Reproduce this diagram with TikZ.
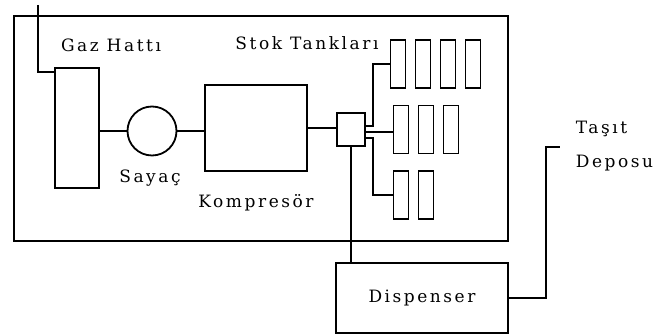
\documentclass[tikz,border=0pt]{standalone}
\usepackage{fontspec}
\setmainfont{DejaVu Serif}[LetterSpace=15]
\usetikzlibrary{positioning}

\begin{document}
\begin{tikzpicture}[x=1pt,y=-1pt,line width=1.8pt]
  \tikzset{unitbox/.style={draw,inner sep=0pt,font=\fontsize{17}{20}\selectfont}, tankbox/.style={unitbox,minimum width=15pt,minimum height=48pt}, lbl/.style={inner sep=0pt,font=\fontsize{17}{20}\selectfont}}
  \useasboundingbox (0,0) rectangle (659,336);
  % station and units
  \node[unitbox,minimum width=494pt,minimum height=225pt] (station) at (261,128.5) {};
  \node[unitbox,minimum width=44pt,minimum height=120pt] (gas) at (77,128) {};
  \node[unitbox,circle,minimum size=49pt] (meter) at (152,131) {};
  \node[unitbox,minimum width=102pt,minimum height=86pt] (comp) at (256,128) {};
  \node[unitbox,minimum width=28pt,minimum height=33pt] (junc) at (351,129.5) {};
  \node[unitbox,minimum width=172pt,minimum height=70pt] (disp) at (422,298) {Dispenser};
  % storage tanks
  \foreach \i in {1,...,4} \node[tankbox] (t1\i) at (373+25*\i,64) {};
  \foreach \i in {1,2,3} \node[tankbox] (t2\i) at (376+25*\i,129.5) {};
  \foreach \i in {1,2} \node[tankbox] (t3\i) at (376+25*\i,195) {};
  % pipes
  \coordinate (inlet) at (38,5);
  \coordinate (hook) at (546,147);
  \coordinate (vehicle) at (560,147);
  \draw (inlet) |- ([yshift=-5pt]gas.north west);
  \draw (gas.east |- meter) -- (meter);
  \draw (meter.east) -- (meter.east -| comp.west);
  \draw (comp.east) -- (comp.east -| junc.west);
  \draw ([yshift=3.5pt]junc.east) -- ++(7,0) |- (t11.west);
  \draw ([yshift=-2.5pt]junc.east) -- ([yshift=-2.5pt]junc.east -| t21.west);
  \draw ([yshift=-8.5pt]junc.east) -- ++(7,0) |- (t31.west);
  \draw (junc.south) -- (junc.south |- disp.north);
  \draw (disp.east) -| (hook) -- (vehicle);
  % labels
  \node[lbl] (gaslbl) at (111,45) {Gaz Hattı};
  \node[lbl] (tanklbl) at (307,43) {Stok Tankları};
  \node[lbl] (meterlbl) at (150,178) {Sayaç};
  \node[lbl] (complbl) at (256,203) {Kompresör};
  \node[lbl,anchor=west,align=left,font=\fontsize{17}{34}\selectfont] (vehiclelbl) at (575,146) {Taşıt\\Deposu};
\end{tikzpicture}
\end{document}
